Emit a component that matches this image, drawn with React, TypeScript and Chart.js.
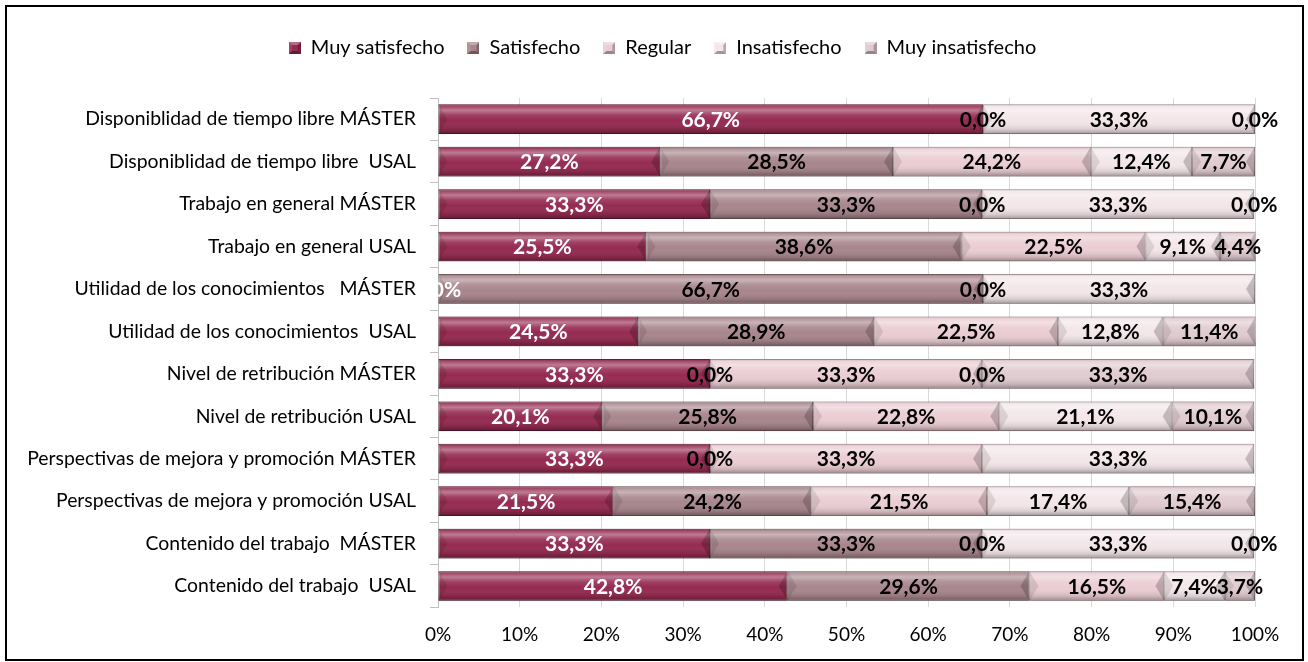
import React, { useEffect, useRef } from "react";
import { Chart, registerables } from "chart.js";

Chart.register(...registerables);

const categories = [
  "Disponiblidad de tiempo libre MÁSTER",
  "Disponiblidad de tiempo libre  USAL",
  "Trabajo en general MÁSTER",
  "Trabajo en general USAL",
  "Utilidad de los conocimientos   MÁSTER",
  "Utilidad de los conocimientos  USAL",
  "Nivel de retribución MÁSTER",
  "Nivel de retribución USAL",
  "Perspectivas de mejora y promoción MÁSTER",
  "Perspectivas de mejora y promoción USAL",
  "Contenido del trabajo  MÁSTER",
  "Contenido del trabajo  USAL",
];

const seriesNames = ["Muy satisfecho", "Satisfecho", "Regular", "Insatisfecho", "Muy insatisfecho"];

const muySatisfecho = [66.7, 27.2, 33.3, 25.5, 0.0, 24.5, 33.3, 20.1, 33.3, 21.5, 33.3, 42.8];
const satisfecho = [null, 28.5, 33.3, 38.6, 66.7, 28.9, 0.0, 25.8, 0.0, 24.2, 33.3, 29.6];
const regular = [0.0, 24.2, 0.0, 22.5, 0.0, 22.5, 33.3, 22.8, 33.3, 21.5, 0.0, 16.5];
const insatisfecho = [33.3, 12.4, 33.3, 9.1, 33.3, 12.8, 0.0, 21.1, 33.3, 17.4, 33.3, 7.4];
const muyInsatisfecho = [0.0, 7.7, 0.0, 4.4, null, 11.4, 33.3, 10.1, null, 15.4, 0.0, 3.7];

const xTickValues = [0, 10, 20, 30, 40, 50, 60, 70, 80, 90, 100];

const baseColors = ["#952b51", "#a8868d", "#eacdd3", "#f3e6e9", "#e0cbd0"];
const borderColors = ["#6d1a37", "#7f6066", "#b8939b", "#b9a4a9", "#a88c92"];
const labelColors = ["#ffffff", "#000000", "#000000", "#000000", "#000000"];

const FONT = "Lato, 'Open Sans', sans-serif";

function makeLegendIcon(color: string): HTMLCanvasElement {
  const s = 12;
  const c = document.createElement("canvas");
  c.width = s;
  c.height = s;
  const g = c.getContext("2d")!;
  g.fillStyle = color;
  g.fillRect(0, 0, s, s);
  const tri = (pts: number[][], fill: string) => {
    g.fillStyle = fill;
    g.beginPath();
    g.moveTo(pts[0][0], pts[0][1]);
    for (let k = 1; k < pts.length; k++) g.lineTo(pts[k][0], pts[k][1]);
    g.closePath();
    g.fill();
  };
  const a = 3, b = s - 3;
  tri([[0, 0], [s, 0], [b, a], [a, a]], "rgba(255,255,255,0.3)");
  tri([[0, 0], [a, a], [a, b], [0, s]], "rgba(255,255,255,0.12)");
  tri([[s, 0], [s, s], [b, b], [b, a]], "rgba(0,0,0,0.25)");
  tri([[0, s], [a, b], [b, b], [s, s]], "rgba(0,0,0,0.35)");
  return c;
}

const bevelPlugin = {
  id: "bevelLabels",
  afterDatasetsDraw(chart: any) {
    const ctx = chart.ctx;
    ctx.save();
    chart.data.datasets.forEach((ds: any, di: number) => {
      const meta = chart.getDatasetMeta(di);
      if (meta.hidden) return;
      meta.data.forEach((el: any, i: number) => {
        const v = ds.data[i];
        if (v === null || v === undefined) return;
        const p = el.getProps(["x", "y", "base", "height"], true);
        const L = Math.min(p.x, p.base);
        const R = Math.max(p.x, p.base);
        const T = p.y - p.height / 2;
        const B = p.y + p.height / 2;
        const w = R - L;
        const h = B - T;
        if (w > 0.5) {
          const gr = ctx.createLinearGradient(0, T, 0, B);
          gr.addColorStop(0, "rgba(0,0,0,0.15)");
          gr.addColorStop(0.08, "rgba(255,255,255,0.15)");
          gr.addColorStop(0.2, "rgba(255,255,255,0.38)");
          gr.addColorStop(0.36, "rgba(255,255,255,0.1)");
          gr.addColorStop(0.55, "rgba(255,255,255,0.0)");
          gr.addColorStop(0.85, "rgba(0,0,0,0.12)");
          gr.addColorStop(1, "rgba(0,0,0,0.35)");
          ctx.fillStyle = gr;
          ctx.fillRect(L, T, w, h);
          const bw = Math.min(9, w / 2);
          const mid = (T + B) / 2;
          ctx.fillStyle = "rgba(0,0,0,0.1)";
          ctx.beginPath();
          ctx.moveTo(L, T);
          ctx.lineTo(L + bw, mid);
          ctx.lineTo(L, B);
          ctx.closePath();
          ctx.fill();
          ctx.fillStyle = "rgba(0,0,0,0.2)";
          ctx.beginPath();
          ctx.moveTo(R, T);
          ctx.lineTo(R - bw, mid);
          ctx.lineTo(R, B);
          ctx.closePath();
          ctx.fill();
        }
      });
    });
    ctx.font = `bold 21px ${FONT}`;
    ctx.textAlign = "center";
    ctx.textBaseline = "middle";
    chart.data.datasets.forEach((ds: any, di: number) => {
      const meta = chart.getDatasetMeta(di);
      meta.data.forEach((el: any, i: number) => {
        const v = ds.data[i];
        if (v === null || v === undefined) return;
        const p = el.getProps(["x", "y", "base"], true);
        const cx = (p.x + p.base) / 2;
        ctx.fillStyle = labelColors[di];
        ctx.fillText(v.toFixed(1).replace(".", ",") + "%", cx, p.y + 1);
      });
    });
    ctx.restore();
  },
};

const legendSpacer = {
  id: "legendSpacer",
  beforeInit(chart: any) {
    const orig = chart.legend.fit;
    chart.legend.fit = function () {
      orig.bind(chart.legend)();
      this.height += 30;
    };
  },
  afterLayout(chart: any) {
    if (chart.legend) {
      chart.legend.left += 28;
      chart.legend.right += 28;
    }
  },
};

export default function App() {
  const ref = useRef<HTMLCanvasElement>(null);
  useEffect(() => {
    const allSeries = [muySatisfecho, satisfecho, regular, insatisfecho, muyInsatisfecho];
    const chart = new Chart(ref.current!, {
      type: "bar",
      data: {
        labels: categories,
        datasets: allSeries.map((d, i) => ({
          label: seriesNames[i],
          data: d,
          backgroundColor: baseColors[i],
          borderColor: borderColors[i],
          borderWidth: 1,
          borderSkipped: false,
          barPercentage: 0.7,
          categoryPercentage: 1,
          pointStyle: makeLegendIcon(baseColors[i]),
        })),
      },
      options: {
        indexAxis: "y",
        responsive: false,
        animation: false,
        layout: { padding: { left: 14, right: 53, top: 15, bottom: 0 } },
        plugins: {
          legend: {
            position: "top",
            labels: {
              usePointStyle: true,
              boxWidth: 12,
              boxHeight: 12,
              padding: 23,
              color: "#000",
              font: { family: FONT, size: 20 },
            },
          },
          tooltip: { enabled: false },
        },
        scales: {
          x: {
            stacked: true,
            min: 0,
            max: 100,
            afterBuildTicks(scale: any) {
              scale.ticks = xTickValues.map((v) => ({ value: v }));
            },
            ticks: {
              callback: (v: any) => v + "%",
              color: "#000",
              font: { family: FONT, size: 19 },
              padding: 16,
              maxRotation: 0,
            },
            grid: { color: "#d9d9d9", drawTicks: false },
            border: { display: false },
          },
          y: {
            stacked: true,
            afterFit(scale: any) {
              scale.width = 438 - 14;
            },
            ticks: {
              color: "#000",
              font: { family: FONT, size: 19.4 },
              padding: 14,
              autoSkip: false,
            },
            grid: { drawOnChartArea: false, drawTicks: true, tickLength: 8, color: "#bfbfbf" },
            border: { display: true, color: "#bfbfbf" },
          },
        },
      },
      plugins: [bevelPlugin, legendSpacer],
    });
    return () => chart.destroy();
  }, []);
  return (
    <div style={{ position: "fixed", left: 0, top: 0, width: 1308, height: 662, background: "#fff" }}>
      <canvas ref={ref} width={1308} height={662} style={{ position: "absolute", left: 0, top: 0 }} />
      <div
        style={{
          position: "absolute",
          left: 5,
          top: 5,
          width: 1299,
          height: 656,
          border: "2px solid #000",
          boxSizing: "border-box",
          pointerEvents: "none",
        }}
      />
    </div>
  );
}
